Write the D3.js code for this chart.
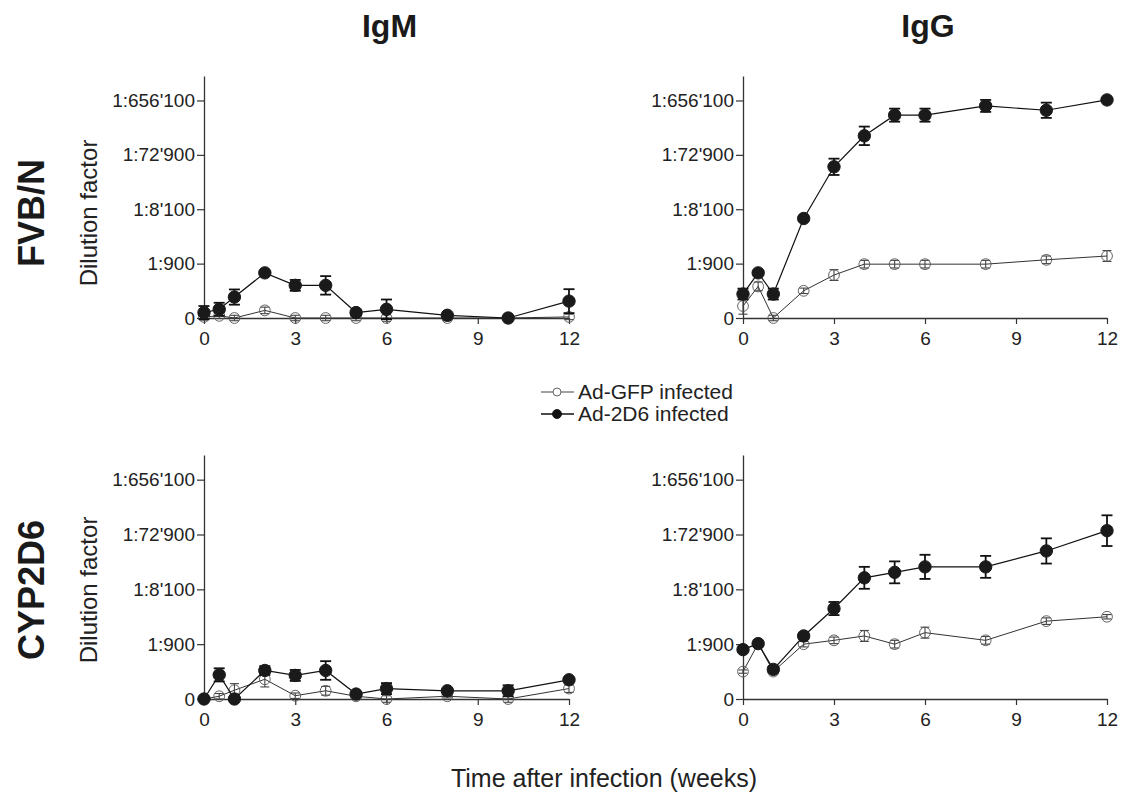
<!DOCTYPE html>
<html>
<head>
<meta charset="utf-8">
<script src="https://cdn.jsdelivr.net/npm/d3@7"></script>
<style>
  body { margin: 0; background: #fff; }
  svg { font-family: "Liberation Sans", Arial, Helvetica, sans-serif; }
</style>
</head>
<body>
<script>
  // time points (weeks) and y levels
  var weeks = [0, 0.5, 1, 2, 3, 4, 5, 6, 8, 10, 12];
  var xTicks = [0, 3, 6, 9, 12];
  var yTicks = [0, 1, 2, 3, 4];
  var yTickLabels = ["0", "1:900", "1:8'100", "1:72'900", "1:656'100"];
  var columns = ["IgM", "IgG"];
  var rows = ["FVB/N", "CYP2D6"];
  var seriesNames = ["Ad-GFP infected", "Ad-2D6 infected"];

  // FVB/N IgM
  var fvbIgmGfp    = [0.02, 0.04, 0, 0.14, 0, 0, 0, 0, 0, 0, 0.02];
  var fvbIgmGfpErr = [0.06, 0.05, 0.05, 0.06, 0.05, 0.05, 0.05, 0.06, 0.05, 0.04, 0.05];
  var fvbIgm2d6    = [0.10, 0.16, 0.385, 0.83, 0.60, 0.60, 0.10, 0.16, 0.05, 0, 0.31];
  var fvbIgm2d6Err = [0.12, 0.12, 0.14, 0.03, 0.10, 0.17, 0.04, 0.18, 0.03, 0, 0.22];

  // FVB/N IgG
  var fvbIggGfp    = [0.22, 0.58, 0, 0.50, 0.79, 0.99, 0.99, 0.99, 0.99, 1.07, 1.14];
  var fvbIggGfpErr = [0.15, 0.08, 0.05, 0.05, 0.10, 0.07, 0.07, 0.07, 0.07, 0.07, 0.10];
  var fvbIgg2d6    = [0.44, 0.83, 0.44, 1.83, 2.78, 3.35, 3.73, 3.73, 3.90, 3.82, 4.01];
  var fvbIgg2d6Err = [0.10, 0.04, 0.10, 0.03, 0.15, 0.17, 0.12, 0.12, 0.11, 0.14, 0.03];

  // CYP2D6 IgM
  var cypIgmGfp    = [0, 0.05, 0.16, 0.36, 0.06, 0.15, 0.05, 0, 0.05, 0, 0.19];
  var cypIgmGfpErr = [0.03, 0.05, 0.12, 0.14, 0.05, 0.08, 0.03, 0.06, 0.03, 0.06, 0.07];
  var cypIgm2d6    = [0, 0.44, 0, 0.52, 0.43, 0.52, 0.09, 0.19, 0.15, 0.15, 0.35];
  var cypIgm2d6Err = [0.02, 0.12, 0.02, 0.08, 0.10, 0.17, 0.03, 0.10, 0.03, 0.10, 0.03];

  // CYP2D6 IgG
  var cypIggGfp    = [0.50, 1.01, 0.50, 1.00, 1.07, 1.15, 1.00, 1.21, 1.07, 1.42, 1.50];
  var cypIggGfpErr = [0.03, 0.03, 0.03, 0.05, 0.06, 0.10, 0.07, 0.10, 0.07, 0.06, 0.04];
  var cypIgg2d6    = [0.90, 1.01, 0.54, 1.15, 1.65, 2.21, 2.31, 2.41, 2.41, 2.70, 3.07];
  var cypIgg2d6Err = [0.03, 0.03, 0.05, 0.05, 0.12, 0.20, 0.20, 0.22, 0.20, 0.23, 0.28];

  var panels = [
    {row: 0, col: 0, gfp: fvbIgmGfp, gfpErr: fvbIgmGfpErr, d6: fvbIgm2d6, d6Err: fvbIgm2d6Err},
    {row: 0, col: 1, gfp: fvbIggGfp, gfpErr: fvbIggGfpErr, d6: fvbIgg2d6, d6Err: fvbIgg2d6Err},
    {row: 1, col: 0, gfp: cypIgmGfp, gfpErr: cypIgmGfpErr, d6: cypIgm2d6, d6Err: cypIgm2d6Err},
    {row: 1, col: 1, gfp: cypIggGfp, gfpErr: cypIggGfpErr, d6: cypIgg2d6, d6Err: cypIgg2d6Err}
  ];

  var width = 1123, height = 796;
  var colX = [[204, 569], [743, 1107]];   // x pixel range for 0..12 weeks
  var rowY = [[318, 76], [699, 455]];     // y pixel range for level 0..yMax
  var yMax = 4.45;

  var svg = d3.select("body").append("svg")
      .attr("width", width)
      .attr("height", height);

  svg.append("rect").attr("width", width).attr("height", height).attr("fill", "#fff");

  var axisColor = "#333";

  panels.forEach(function(p) {
    var x = d3.scaleLinear().domain([0, 12]).range(colX[p.col]);
    var y = d3.scaleLinear().domain([0, yMax]).range(rowY[p.row]);
    var g = svg.append("g");

    var yAxis = g.append("g")
        .attr("transform", "translate(" + x(0) + ",0)")
        .call(d3.axisLeft(y).tickValues(yTicks)
          .tickFormat(function(d, i) { return yTickLabels[i]; })
          .tickSize(7).tickSizeOuter(0).tickPadding(2));

    var xAxis = g.append("g")
        .attr("transform", "translate(0," + y(0) + ")")
        .call(d3.axisBottom(x).tickValues(xTicks).tickSize(6).tickSizeOuter(0).tickPadding(8));

    [xAxis, yAxis].forEach(function(a) {
      a.select(".domain").attr("stroke", axisColor).attr("stroke-width", 1.3);
      a.selectAll(".tick line").attr("stroke", axisColor).attr("stroke-width", 1.2);
      a.selectAll(".tick text").attr("fill", "#222")
        .style("font-size", "19px")
        .style("font-family", "'Liberation Sans', Arial, sans-serif");
    });

    var line = d3.line()
        .x(function(d) { return x(d.t); })
        .y(function(d) { return y(d.v); });

    var sets = [
      {vals: p.gfp, errs: p.gfpErr, filled: false},
      {vals: p.d6, errs: p.d6Err, filled: true}
    ];

    sets.forEach(function(s) {
      var pts = weeks.map(function(t, i) { return {t: t, v: s.vals[i], e: s.errs[i]}; });

      g.append("path")
          .datum(pts)
          .attr("d", line)
          .attr("fill", "none")
          .attr("stroke", s.filled ? "#111" : "#333")
          .attr("stroke-width", s.filled ? 1.2 : 1);

      var eb = g.selectAll(null).data(pts.filter(function(d) { return d.e > 0; }))
          .enter().append("g")
          .attr("stroke", s.filled ? "#111" : "#444")
          .attr("stroke-width", s.filled ? 1.8 : 1.1);
      var cap = s.filled ? 5.5 : 4.5;
      eb.append("line")
          .attr("x1", function(d) { return x(d.t); })
          .attr("x2", function(d) { return x(d.t); })
          .attr("y1", function(d) { return y(d.v - d.e); })
          .attr("y2", function(d) { return y(d.v + d.e); });
      eb.append("line")
          .attr("x1", function(d) { return x(d.t) - cap; })
          .attr("x2", function(d) { return x(d.t) + cap; })
          .attr("y1", function(d) { return y(d.v + d.e); })
          .attr("y2", function(d) { return y(d.v + d.e); });
      eb.append("line")
          .attr("x1", function(d) { return x(d.t) - cap; })
          .attr("x2", function(d) { return x(d.t) + cap; })
          .attr("y1", function(d) { return y(d.v - d.e); })
          .attr("y2", function(d) { return y(d.v - d.e); });

      g.selectAll(null).data(pts).enter().append("circle")
          .attr("cx", function(d) { return x(d.t); })
          .attr("cy", function(d) { return y(d.v); })
          .attr("r", s.filled ? 6.2 : 5.4)
          .attr("fill", s.filled ? "#1a1a1a" : "none")
          .attr("stroke", s.filled ? "#1a1a1a" : "#555")
          .attr("stroke-width", s.filled ? 1 : 0.9);
    });
  });

  // column titles
  svg.selectAll(".colTitle").data(columns).enter().append("text")
      .attr("class", "colTitle")
      .attr("x", function(d, i) { return (colX[i][0] + colX[i][1]) / 2 + 3; })
      .attr("y", 37)
      .attr("text-anchor", "middle")
      .style("font-size", "32px")
      .style("font-weight", "bold")
      .attr("fill", "#1a1a1a")
      .text(function(d) { return d; });

  // row titles
  var rowCenters = [213, 590];
  svg.selectAll(".rowTitle").data(rows).enter().append("text")
      .attr("class", "rowTitle")
      .attr("transform", function(d, i) { return "translate(44," + rowCenters[i] + ") rotate(-90)"; })
      .attr("text-anchor", "middle")
      .style("font-size", "36px")
      .style("font-weight", "bold")
      .attr("fill", "#1a1a1a")
      .text(function(d) { return d; });

  // y axis titles
  svg.selectAll(".yTitle").data(rows).enter().append("text")
      .attr("class", "yTitle")
      .attr("transform", function(d, i) { return "translate(97," + rowCenters[i] + ") rotate(-90)"; })
      .attr("text-anchor", "middle")
      .style("font-size", "24px")
      .attr("fill", "#222")
      .text("Dilution factor");

  // x axis title
  svg.append("text")
      .attr("x", 604)
      .attr("y", 787)
      .attr("text-anchor", "middle")
      .style("font-size", "25px")
      .attr("fill", "#222")
      .text("Time after infection (weeks)");

  // legend
  var legend = svg.append("g");
  var legY = [392, 414];
  seriesNames.forEach(function(name, i) {
    var filled = i === 1;
    legend.append("line")
        .attr("x1", 541).attr("x2", 574)
        .attr("y1", legY[i]).attr("y2", legY[i])
        .attr("stroke", filled ? "#111" : "#444")
        .attr("stroke-width", filled ? 1.5 : 1);
    legend.append("circle")
        .attr("cx", 557).attr("cy", legY[i])
        .attr("r", filled ? 4.5 : 4)
        .attr("fill", filled ? "#111" : "#fff")
        .attr("stroke", filled ? "#111" : "#555")
        .attr("stroke-width", 0.9);
    legend.append("text")
        .attr("x", 578)
        .attr("y", legY[i] + 7)
        .style("font-size", "21px")
        .attr("fill", "#222")
        .text(name);
  });
</script>
</body>
</html>
